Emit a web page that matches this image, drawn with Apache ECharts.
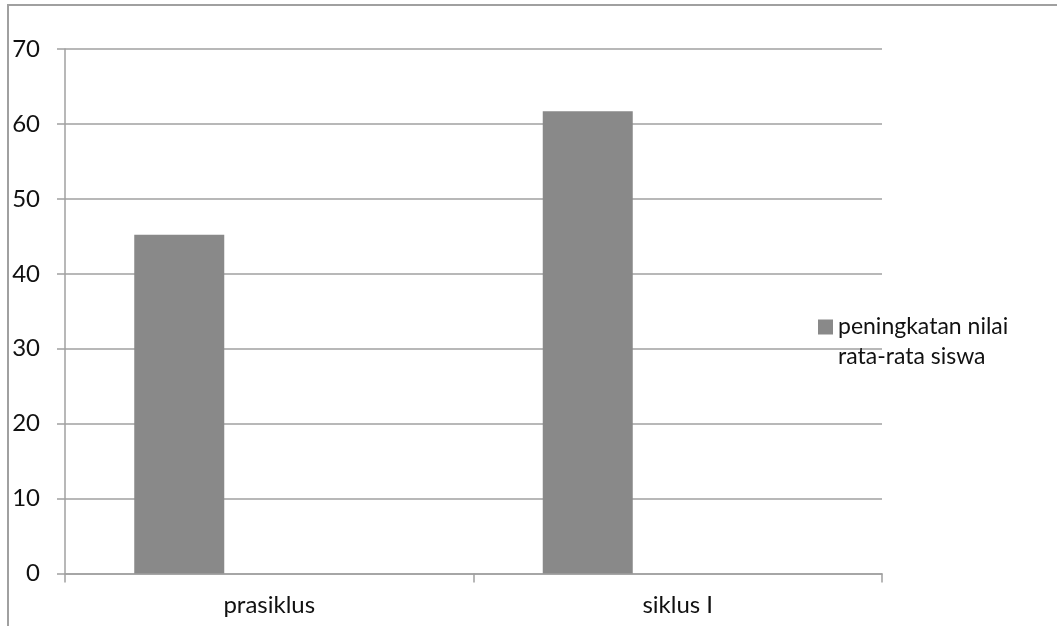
<!DOCTYPE html>
<html>
<head>
<meta charset="utf-8">
<script src="https://cdn.jsdelivr.net/npm/echarts@6/dist/echarts.min.js"></script>
<style>
  html, body { margin: 0; padding: 0; background: #ffffff; }
  #chart { width: 1057px; height: 626px; }
</style>
</head>
<body>
<div id="chart"></div>
<script>
// Category labels and values
const categories = ['prasiklus', 'siklus I'];
const nilaiRataRata = [45.2, 61.7];
const seriesName = 'peningkatan nilai rata-rata siswa';
const legendLines = ['peningkatan nilai', 'rata-rata siswa'];
const yTicks = { min: 0, max: 70, interval: 10 };

const FONT = 'Lato, "Open Sans", sans-serif';
const TEXT = '#111111';
const LINE = '#a0a0a0';
const BAR = '#898989';

const chart = echarts.init(document.getElementById('chart'), null, { renderer: 'canvas' });

// The category slots keep room for three bars; only the first carries data.
const slot = { type: 'bar', barWidth: 90, barGap: '0%', data: [] };

chart.setOption({
  animation: false,
  backgroundColor: '#ffffff',
  graphic: [{
    type: 'rect',
    shape: { x: 8, y: 5, width: 1100, height: 700 },
    style: { fill: 'none', stroke: LINE, lineWidth: 2 },
    silent: true
  }],
  grid: { left: 65, right: 175, top: 49, bottom: 52.5, containLabel: false },
  legend: {
    orient: 'vertical',
    left: 813,
    top: 277,
    itemWidth: 15,
    itemHeight: 15,
    icon: 'rect',
    data: [seriesName],
    // empty first line keeps the icon level with the first text line
    formatter: () => '\n' + legendLines.join('\n'),
    textStyle: { fontFamily: FONT, fontSize: 23, color: TEXT, lineHeight: 30 }
  },
  xAxis: {
    type: 'category',
    data: categories,
    axisLine: { lineStyle: { color: LINE, width: 1.5 } },
    axisTick: { show: true, length: 9, lineStyle: { color: LINE, width: 1.5 } },
    axisLabel: { fontFamily: FONT, fontSize: 24, color: TEXT, margin: 20 },
    splitLine: { show: false }
  },
  yAxis: {
    type: 'value',
    min: yTicks.min, max: yTicks.max, interval: yTicks.interval,
    axisLine: { show: true, lineStyle: { color: LINE, width: 1.5 } },
    axisTick: { show: true, length: 8, lineStyle: { color: LINE, width: 1.5 } },
    axisLabel: { fontFamily: FONT, fontSize: 24, color: TEXT, margin: 25 },
    splitLine: { show: true, lineStyle: { color: LINE, width: 1.5 } }
  },
  series: [
    {
      name: seriesName,
      type: 'bar',
      barWidth: 90,
      barGap: '0%',
      data: nilaiRataRata,
      itemStyle: { color: BAR }
    },
    Object.assign({}, slot),
    Object.assign({}, slot)
  ]
});
</script>
</body>
</html>
